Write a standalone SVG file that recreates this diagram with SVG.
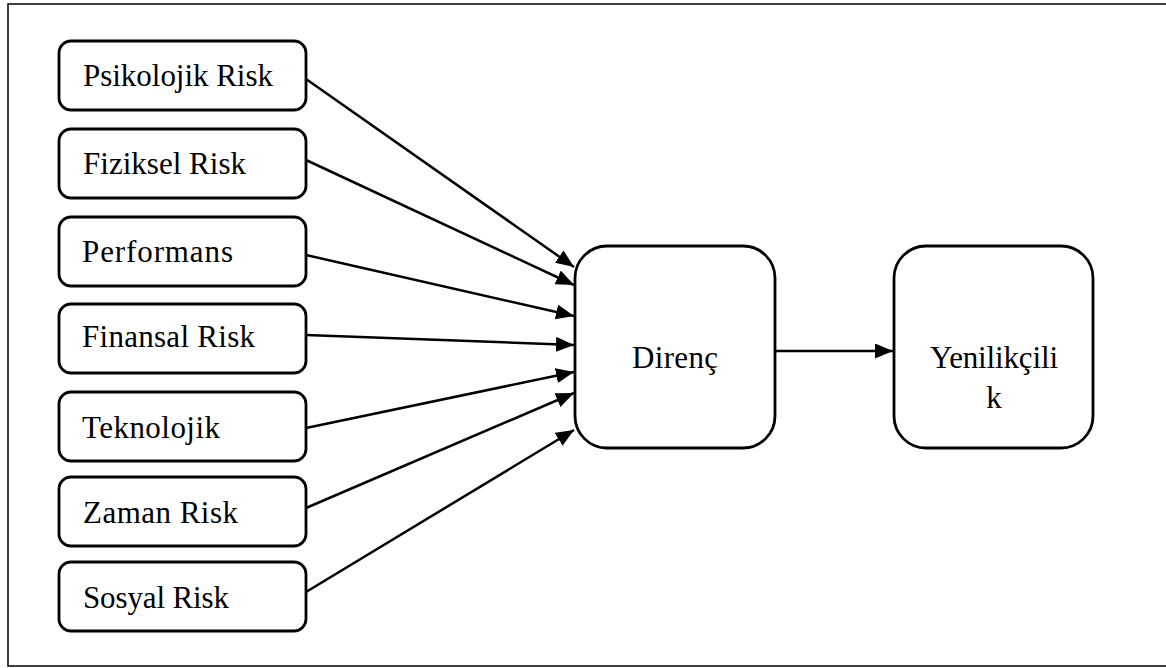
<svg xmlns="http://www.w3.org/2000/svg" width="1166" height="668" viewBox="0 0 1166 668">
  <style>
    .frame { fill: none; stroke: #000; stroke-width: 1.5; }
    .box { fill: #fff; stroke: #000; stroke-width: 2.8; }
    .lbl { font-family: "Liberation Serif", "Times New Roman", serif; font-size: 31px; fill: #000; }
    .mid { text-anchor: middle; }
    .conn { stroke: #000; stroke-width: 2.5; fill: none; marker-end: url(#arrow); }
  </style>
  <defs>
    <marker id="arrow" markerUnits="userSpaceOnUse" markerWidth="19" markerHeight="15" refX="18" refY="7.5" orient="auto">
      <path d="M0,0 L18,7.5 L0,15 Z" fill="#000"/>
    </marker>
  </defs>

  <rect width="1166" height="668" fill="#fff"/>
  <rect class="frame" x="8" y="4" width="1170" height="662"/>

  <!-- risk factors -->
  <g id="psikolojik">
    <rect class="box" x="59" y="41" width="247" height="69" rx="12"/>
    <text class="lbl" x="83" y="86" textLength="190">Psikolojik Risk</text>
  </g>
  <g id="fiziksel">
    <rect class="box" x="59" y="129" width="247" height="69" rx="12"/>
    <text class="lbl" x="83" y="174" textLength="163">Fiziksel Risk</text>
  </g>
  <g id="performans">
    <rect class="box" x="59" y="217" width="247" height="69" rx="12"/>
    <text class="lbl" x="82" y="262" textLength="151">Performans</text>
  </g>
  <g id="finansal">
    <rect class="box" x="59" y="304" width="247" height="69" rx="12"/>
    <text class="lbl" x="82" y="347" textLength="173">Finansal Risk</text>
  </g>
  <g id="teknolojik">
    <rect class="box" x="59" y="392" width="247" height="69" rx="12"/>
    <text class="lbl" x="82" y="438" textLength="138">Teknolojik</text>
  </g>
  <g id="zaman">
    <rect class="box" x="59" y="477" width="247" height="69" rx="12"/>
    <text class="lbl" x="83" y="523" textLength="155">Zaman Risk</text>
  </g>
  <g id="sosyal">
    <rect class="box" x="59" y="562" width="247" height="69" rx="12"/>
    <text class="lbl" x="83" y="608" textLength="146">Sosyal Risk</text>
  </g>

  <!-- outcome nodes -->
  <g id="direnc">
    <rect class="box" x="575" y="246" width="200" height="202" rx="32"/>
    <text class="lbl mid" x="675" y="368" textLength="86">Direnç</text>
  </g>
  <g id="yenilikcilik">
    <rect class="box" x="894" y="246" width="199" height="202" rx="32"/>
    <text class="lbl mid" x="994" y="368" textLength="128">Yenilikçili</text>
    <text class="lbl mid" x="994" y="408">k</text>
  </g>

  <!-- connectors -->
  <g id="connectors">
    <line class="conn" x1="306" y1="79" x2="574" y2="267"/>
    <line class="conn" x1="306" y1="160" x2="574" y2="285"/>
    <line class="conn" x1="306" y1="255" x2="574" y2="316"/>
    <line class="conn" x1="306" y1="335" x2="574" y2="345"/>
    <line class="conn" x1="306" y1="428" x2="574" y2="372"/>
    <line class="conn" x1="306" y1="508" x2="574" y2="393"/>
    <line class="conn" x1="306" y1="592" x2="574" y2="430"/>
    <line class="conn" x1="775" y1="351" x2="893" y2="351"/>
  </g>
</svg>
